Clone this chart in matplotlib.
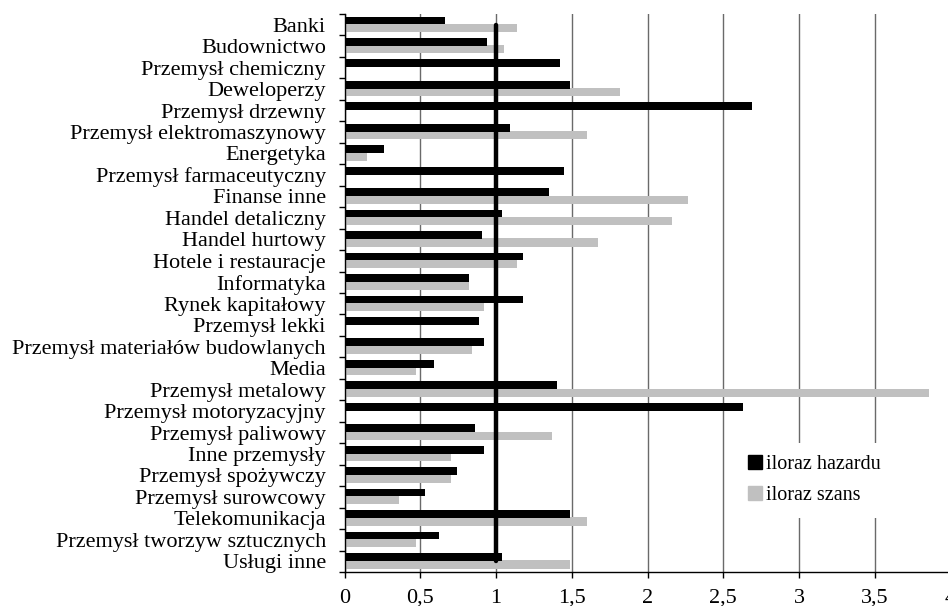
import numpy as np
import matplotlib
matplotlib.use("Agg")
import matplotlib.pyplot as plt
from matplotlib.patches import Patch

plt.rcParams['font.family'] = ['Liberation Serif', 'DejaVu Serif']

branze = [
    "Banki", "Budownictwo", "Przemysł chemiczny", "Deweloperzy",
    "Przemysł drzewny", "Przemysł elektromaszynowy", "Energetyka",
    "Przemysł farmaceutyczny", "Finanse inne", "Handel detaliczny",
    "Handel hurtowy", "Hotele i restauracje", "Informatyka",
    "Rynek kapitałowy", "Przemysł lekki", "Przemysł materiałów budowlanych",
    "Media", "Przemysł metalowy", "Przemysł motoryzacyjny",
    "Przemysł paliwowy", "Inne przemysły", "Przemysł spożywczy",
    "Przemysł surowcowy", "Telekomunikacja", "Przemysł tworzyw sztucznych",
    "Usługi inne",
]

iloraz_hazardu = [
    0.66, 0.94, 1.42, 1.49, 2.69, 1.09, 0.26, 1.45, 1.35, 1.04,
    0.91, 1.18, 0.82, 1.18, 0.89, 0.92, 0.59, 1.40, 2.63, 0.86,
    0.92, 0.74, 0.53, 1.49, 0.62, 1.04,
]

# brak wartości dla części branż -> NaN (słupek nie jest rysowany)
iloraz_szans = [
    1.14, 1.05, np.nan, 1.82, np.nan, 1.60, 0.15, np.nan, 2.27, 2.16,
    1.67, 1.14, 0.82, 0.92, np.nan, 0.84, 0.47, 3.86, np.nan, 1.37,
    0.70, 0.70, 0.36, 1.60, 0.47, 1.49,
]

FS = 16

fig = plt.figure(figsize=(9.48, 6.06), dpi=100)
ax = fig.add_axes([0.3635, 0.0561, 0.6392, 0.9208])

y = np.arange(len(branze))
szans = np.array(iloraz_szans)
mask = ~np.isnan(szans)
ax.barh(y[mask] + 0.15, szans[mask], height=0.38, color='#c0c0c0', zorder=2)
ax.barh(y - 0.2, iloraz_hazardu, height=0.36, color='black', zorder=3)

# linia odniesienia dla ilorazu = 1
ax.plot([1, 1], [0, len(branze) - 1], color='black', lw=3.2,
        solid_capstyle='round', zorder=4)

ax.set_xlim(0, 4)
ax.set_ylim(len(branze) - 0.5, -0.5)
ax.set_xticks(np.arange(0, 4.01, 0.5))
ax.set_xticklabels(['0', '0,5', '1', '1,5', '2', '2,5', '3', '3,5', '4'],
                   fontsize=FS)
ax.set_yticks(y)
ax.set_yticklabels(branze, fontsize=FS)
ax.set_yticks(np.arange(-0.5, len(branze)), minor=True)
ax.tick_params(axis='y', which='major', length=0, pad=13.5)
ax.tick_params(axis='y', which='minor', length=4, width=1, direction='out')
ax.tick_params(axis='x', length=4, width=1, direction='out', pad=8)
ax.xaxis.grid(True, color='#6a6a6a', lw=1)
ax.set_axisbelow(True)
for side in ('top', 'right'):
    ax.spines[side].set_visible(False)
for side in ('left', 'bottom'):
    ax.spines[side].set_linewidth(1)

handles = [Patch(color='black', label='iloraz hazardu'),
           Patch(color='#c0c0c0', label='iloraz szans')]
leg = ax.legend(handles=handles, loc='upper left',
                bbox_to_anchor=(0.629, 0.249), fontsize=14.5, frameon=True,
                fancybox=False, edgecolor='none', facecolor='white',
                framealpha=1, handlelength=0.7, handleheight=0.7,
                handletextpad=0.2, labelspacing=0.6, borderpad=0.6)
leg.set_zorder(5)

fig.savefig('out.png', dpi=100)
